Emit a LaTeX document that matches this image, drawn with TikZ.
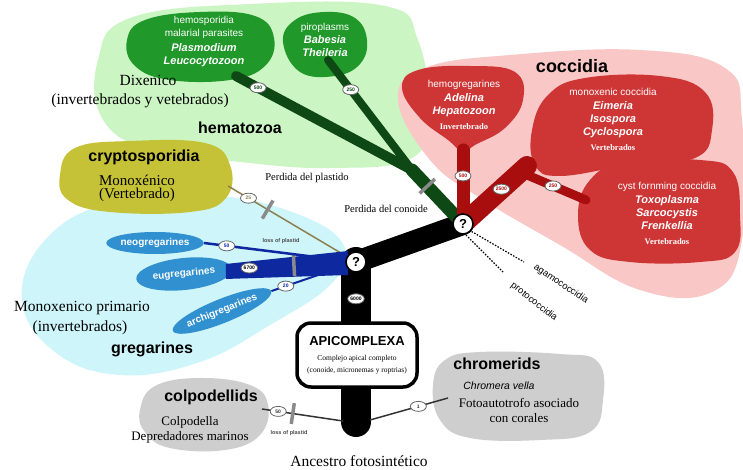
\documentclass[tikz,border=0pt]{standalone}
\usepackage{fontspec}
\setmainfont{Liberation Serif}
\setsansfont{Liberation Sans}
\usetikzlibrary{shapes.geometric,calc}
\newcommand\fz[2]{\fontsize{#1}{#2}\selectfont}
\definecolor{bggreen}{RGB}{204,245,196}
\definecolor{blobgreen}{RGB}{32,152,42}
\definecolor{brgreen}{RGB}{14,72,20}
\definecolor{bgpink}{RGB}{249,200,198}
\definecolor{blobred}{RGB}{206,54,54}
\definecolor{brred}{RGB}{168,14,14}
\definecolor{bgcyan}{RGB}{206,245,250}
\definecolor{blobblue}{RGB}{48,144,208}
\definecolor{brblue}{RGB}{14,40,160}
\definecolor{bloby}{RGB}{198,194,55}
\definecolor{blobgrey}{RGB}{206,206,206}
\definecolor{lossgrey}{RGB}{138,138,138}
\definecolor{crline}{RGB}{140,127,80}
\begin{document}
\begin{tikzpicture}[x=1pt,y=-1pt,
  badge/.style={ellipse,draw=black!60,fill=white,line width=0.8pt,inner sep=0.3pt,
    minimum width=16pt,minimum height=10pt,font=\sffamily\bfseries\fz{5}{5}},
  qmark/.style={circle,draw=black,fill=white,line width=1.6pt,minimum size=20pt,
    inner sep=0pt,font=\sffamily\bfseries\fz{13}{13}},
  lossbar/.style={rectangle,fill=lossgrey,minimum width=3.5pt,minimum height=21pt,
    inner sep=0pt,sloped},
  wt/.style={text=white,align=center,inner sep=0pt,font=\sffamily\fz{10}{13}},
  st/.style={align=center,inner sep=0pt,font=\fz{15.5}{17}},
  ttl/.style={inner sep=0pt,font=\sffamily\bfseries\fz{16}{18}},
  blueblob/.style={ellipse,fill=blobblue,text=white,inner sep=0pt,
    font=\sffamily\bfseries\fz{10}{12}},
]
\useasboundingbox (0,0) rectangle (743,470);
\fill[white] (0,0) rectangle (743,470);

% ---------- background regions
\fill[bggreen] plot[smooth cycle,tension=0.7] coordinates {(98,60) (130,18) (250,4) (385,6) (418,40) (428,110) (412,158) (330,168) (240,162) (150,150) (102,118)};
\fill[bgpink] plot[smooth cycle,tension=0.7] coordinates {(398,100) (425,68) (510,55) (640,50) (725,68) (742,120) (742,240) (712,292) (640,290) (560,245) (480,198) (430,160)};
\fill[bgcyan] plot[smooth cycle,tension=0.7] coordinates {(22,300) (45,240) (110,203) (210,195) (300,215) (345,248) (330,285) (270,325) (200,362) (120,375) (55,352)};

% ---------- big blobs
\fill[blobgreen] plot[smooth cycle,tension=0.7] coordinates {(127,40) (145,20) (200,12) (255,16) (274,38) (265,66) (230,80) (170,80) (135,66)};
\fill[blobgreen] plot[smooth cycle,tension=0.7] coordinates {(283,42) (295,20) (325,12) (355,18) (367,40) (360,64) (335,76) (300,72)};
\fill[bloby] plot[smooth cycle,tension=0.7] coordinates {(60,175) (75,148) (130,141) (205,143) (230,165) (226,198) (190,212) (110,212) (68,200)};
\fill[blobred] plot[smooth cycle,tension=0.7] coordinates {(402,88) (418,70) (470,66) (515,72) (523,100) (505,128) (475,145) (463,152) (448,140) (420,118)};
\fill[blobred] plot[smooth cycle,tension=0.7] coordinates {(532,130) (548,95) (585,78) (660,76) (705,92) (712,130) (695,158) (630,165) (560,176) (535,165)};
\fill[blobred] plot[smooth cycle,tension=0.7] coordinates {(578,215) (590,180) (625,162) (700,160) (733,172) (740,215) (735,252) (700,262) (630,262) (590,250)};
\fill[blobgrey] plot[smooth cycle,tension=0.7] coordinates {(140,410) (155,386) (200,378) (250,385) (268,405) (260,435) (225,450) (170,448) (145,432)};
\fill[blobgrey] plot[smooth cycle,tension=0.7] coordinates {(433,385) (445,360) (480,352) (560,354) (598,362) (603,400) (590,432) (540,440) (470,438) (440,420)};

% ---------- gregarine blobs
\node[blueblob,minimum width=92pt,minimum height=22pt] (neo) at (155,243) {neogregarines};
\node[blueblob,minimum width=96pt,minimum height=32pt,rotate=6] (eu) at (184,274) {eugregarines};
\node[blueblob,minimum width=94pt,minimum height=24pt,rotate=22] (arch) at (222,311) {archigregarines};

% ---------- key coordinates
\coordinate (n1) at (356,262);
\coordinate (n2) at (463,224);
\coordinate (base) at (356,422);
\coordinate (gj) at (412,170);
\coordinate (hemoE) at (236,76);
\coordinate (piroE) at (328,60);
\coordinate (r1) at (463,150);
\coordinate (r2) at (527,166);
\coordinate (r2b) at (520,172);
\coordinate (r3) at (586,200);
\coordinate (d1) at (524,262);
\coordinate (d2) at (503,272);
\coordinate (cryE) at (228,186);
\coordinate (colpE) at (262,409);
\coordinate (tl) at (343,421);
\coordinate (tr) at (370,420);
\coordinate (chromE) at (448,398);

% ---------- black tree
\draw[line width=30pt,line cap=round] (n1) -- (base);
\draw[line width=22pt,line cap=round] (n1) -- (n2);
\node[draw,line width=3.5pt,rounded corners=14pt,fill=white,minimum width=120pt,
  minimum height=64pt,align=center,inner sep=0pt] (apic) at (357,355)
  {{\sffamily\bfseries\fz{13}{15}APICOMPLEXA}\\[3pt]{\fz{7.5}{9}Complejo apical completo}\\{\fz{7.5}{9}(conoide, micronemas y roptrias)}};
\path (n1) -- node[badge,pos=0.23] (b6000) {6000} (base);

% ---------- green branches
\draw[brgreen,line width=13pt,line cap=round] (gj) -- node[lossbar,pos=0.3] (lg) {} (n2);
\draw[brgreen,line width=10pt,line cap=round] (hemoE) -- node[badge,pos=0.125] (b500g) {500} (gj);
\draw[brgreen,line width=8pt,line cap=round] (piroE) -- node[badge,pos=0.27] (b250g) {250} (gj);

% ---------- red branches
\draw[brred,line width=13pt,line cap=round] (n2) -- node[badge,pos=0.65] (b500r) {500} (r1);
\draw[brred,line width=20pt,line cap=round] (n2) -- node[badge,pos=0.6] (b2500) {2500} (r2);
\draw[brred,line width=9pt,line cap=round] (r2b) -- node[badge,pos=0.5] (b250r) {250} (r3);
\draw[line width=1.2pt,dash pattern=on 1.5pt off 1.5pt] ($(n2)+(6,6)$) -- (d1);
\draw[line width=1.2pt,dash pattern=on 1.5pt off 1.5pt] ($(n2)+(3,11)$) -- (d2);

% ---------- gregarine / cryptosporidia branches
\draw[crline,line width=1.5pt] (cryE) -- node[badge,pos=0.16] (b25) {25} node[lossbar,pos=0.31] (lc) {} (n1);
\fill[brblue] ($(eu.east)+(-6,-5)$) -- ($(n1)+(-8,-11)$) -- ($(n1)+(-8,13)$) -- ($(eu.east)+(-6,10)$) -- cycle;
\path (eu.east) -- node[badge,pos=0.14] (b6700) {6700} node[lossbar,pos=0.5] (le) {} (n1);
\draw[brblue,line width=2.5pt] (neo.east) -- node[badge,pos=0.15] (b50n) {50} (n1);
\draw[brblue,line width=2pt] (arch.east) -- node[badge,pos=0.17] (b20) {20} (n1);
\node[font=\sffamily\bfseries\fz{5.5}{6},text=black!70] (lp1) at (281,241) {loss of plastid};

% ---------- colpodellids / chromerids branches
\draw[black!80,line width=1.5pt] (colpE) -- node[badge,pos=0.2] (b50c) {50} node[lossbar,pos=0.38] (lcp) {} (tl);
\draw[black!80,line width=1.5pt] (tr) -- node[badge,pos=0.62] (b1) {1} (chromE);
\node[font=\sffamily\bfseries\fz{5.5}{6},text=black!70] (lp2) at (289,433) {loss of plastid};

% ---------- question nodes
\node[qmark] (N1) at (n1) {?};
\node[qmark] (N2) at (n2) {?};

% ---------- texts: hematozoa
\node[wt] (thm) at (204,42) {hemosporidia\\malarial parasites\\[2pt]{\bfseries\itshape\fz{11}{14}Plasmodium}\\{\bfseries\itshape\fz{11}{14}Leucocytozoon}};
\node[wt] (tpi) at (325,40) {piroplasms\\{\bfseries\itshape\fz{11}{14}Babesia}\\{\bfseries\itshape\fz{11}{14}Theileria}};
\node[st] (tdix) at (148,80) {Dixenico};
\node[st] (tdix2) at (140,101) {(invertebrados y vetebrados)};
\node[ttl] (thema) at (240,128) {hematozoa};
\node[font=\fz{10.5}{12},inner sep=0pt] (tpp) at (307,178) {Perdida del plastido};
\node[font=\fz{10.5}{12},inner sep=0pt] (tpc) at (386,209) {Perdida del conoide};

% ---------- coccidia
\node[inner sep=0pt,font=\sffamily\bfseries\fz{18}{20}] (tcoc) at (572,66) {coccidia};
\node[wt] (thg) at (464,105) {hemogregarines\\[1pt]{\bfseries\itshape\fz{11}{13}Adelina}\\{\bfseries\itshape\fz{11}{13}Hepatozoon}\\[2pt]{\rmfamily\bfseries\fz{8.5}{10}Invertebrado}};
\node[wt] (tmc) at (613,119) {monoxenic coccidia\\[1pt]{\bfseries\itshape\fz{11}{13}Eimeria}\\{\bfseries\itshape\fz{11}{13}Isospora}\\{\bfseries\itshape\fz{11}{13}Cyclospora}\\[2pt]{\rmfamily\bfseries\fz{8.5}{10}Vertebrados}};
\node[wt] (tcf) at (667,213) {cyst fornming coccidia\\[1pt]{\bfseries\itshape\fz{11}{13}Toxoplasma}\\{\bfseries\itshape\fz{11}{13}Sarcocystis}\\{\bfseries\itshape\fz{11}{13}Frenkellia}\\[2pt]{\rmfamily\bfseries\fz{8.5}{10}Vertebrados}};
\node[inner sep=0pt,font=\sffamily\fz{9.5}{11},rotate=-34] (tag) at (561,284) {agamococcidia};
\node[inner sep=0pt,font=\sffamily\fz{9.5}{11},rotate=-38] (tpro) at (534,302) {protococcidia};

% ---------- cryptosporidia
\node[ttl] (tcry) at (144,157) {cryptosporidia};
\node[st,font=\fz{15}{13}] (tcry2) at (137,188) {Monoxénico\\(Vertebrado)};

% ---------- gregarines
\node[st] (tmp) at (82,308) {Monoxenico primario};
\node[st] (tmp2) at (80,328) {(invertebrados)};
\node[ttl] (tgreg) at (152,349) {gregarines};

% ---------- colpodellids / chromerids
\node[ttl] (tcol) at (211,397) {colpodellids};
\node[st,font=\fz{13}{15}] (tcol2) at (190,430) {Colpodella\\Depredadores marinos};
\node[ttl] (tchr) at (497,364) {chromerids};
\node[inner sep=0pt,font=\sffamily\itshape\fz{10.5}{12}] (tchr1) at (499,386) {Chromera vella};
\node[st,font=\fz{13}{15}] (tchr2) at (519,410) {Fotoautotrofo asociado\\con corales};

\node[st] (tanc) at (359,461) {Ancestro fotosintético};
\end{tikzpicture}
\end{document}
